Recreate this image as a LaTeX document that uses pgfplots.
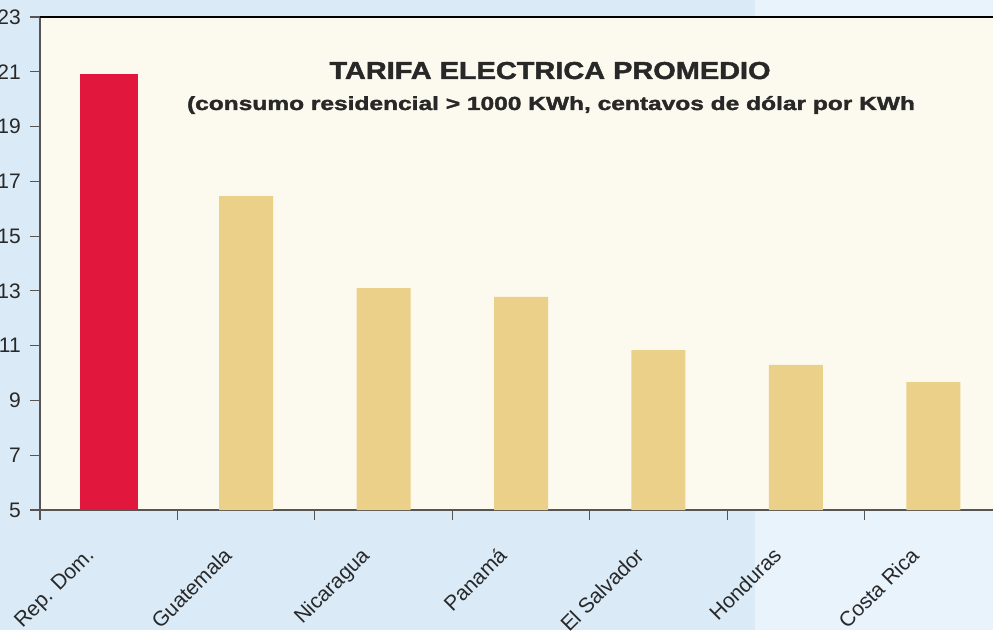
\documentclass[border=0pt]{standalone}
\usepackage{pgfplots}
\pgfplotsset{compat=1.18}
\usepackage{fontspec}
\setmainfont{Liberation Sans}
\newfontfamily\heavyfont{Liberation Sans}[BoldFeatures={FakeBold=1.6}]
\definecolor{bgL}{RGB}{218,235,247}
\definecolor{bgR}{RGB}{233,243,252}
\definecolor{plotbg}{RGB}{252,250,238}
\definecolor{tanbar}{RGB}{235,208,137}
\definecolor{redbar}{RGB}{225,23,61}
\definecolor{axgray}{RGB}{85,85,85}
\definecolor{txt}{RGB}{40,40,40}
\begin{document}
\begin{tikzpicture}[x=1pt,y=1pt]
\clip (0,0) rectangle (993,630);
\fill[bgL] (0,0) rectangle (755,630);
\fill[bgR] (755,0) rectangle (993,630);
\begin{axis}[
  at={(40pt,120pt)}, anchor=south west,
  scale only axis, width=962pt, height=493pt,
  xmin=-0.5, xmax=6.5, ymin=5, ymax=23,
  axis x line*=bottom, axis y line*=left,
  axis line style={draw=axgray, line width=1.3pt},
  axis background/.style={fill=plotbg},
  ytick={5,7,...,23},
  xtick={-0.5,0.5,...,6.5},
  x tick label as interval,
  xticklabels={Rep. Dom., Guatemala, Nicaragua, Panamá, El Salvador, Honduras, Costa Rica},
  tick align=outside,
  major tick length=10pt,
  tick style={draw=axgray, line width=1.2pt},
  yticklabel style={font=\fontsize{21}{21}\selectfont, text=txt, inner sep=0pt, xshift=-9pt},
  xticklabel style={font=\fontsize{21}{21}\selectfont, text=txt, xshift=-24pt, yshift=-26pt, rotate=45, anchor=north east, inner sep=0pt},
  /pgf/number format/assume math mode=true,
  ybar,
  clip=false,
]
\addplot[fill=redbar, draw=none, bar width=58pt, bar shift=0pt] coordinates {(0,20.92)};
\addplot[fill=tanbar, draw=none, bar width=54pt, bar shift=0pt] coordinates {(1,16.46) (2,13.1) (3,12.78) (4,10.84) (5,10.3) (6,9.67)};
\draw[black, line width=1.3pt] (rel axis cs:0,1) -- (rel axis cs:1,1);
\end{axis}
\node[font=\fontsize{24.5}{24.5}\selectfont\heavyfont\bfseries, text=txt, anchor=base, xscale=1.18] at (550,551) {TARIFA ELECTRICA PROMEDIO};
\node[font=\fontsize{19}{19}\selectfont\heavyfont\bfseries, text=txt, anchor=base, xscale=1.29] at (551,520) {(consumo residencial > 1000 KWh, centavos de dólar por KWh};
\end{tikzpicture}
\end{document}
